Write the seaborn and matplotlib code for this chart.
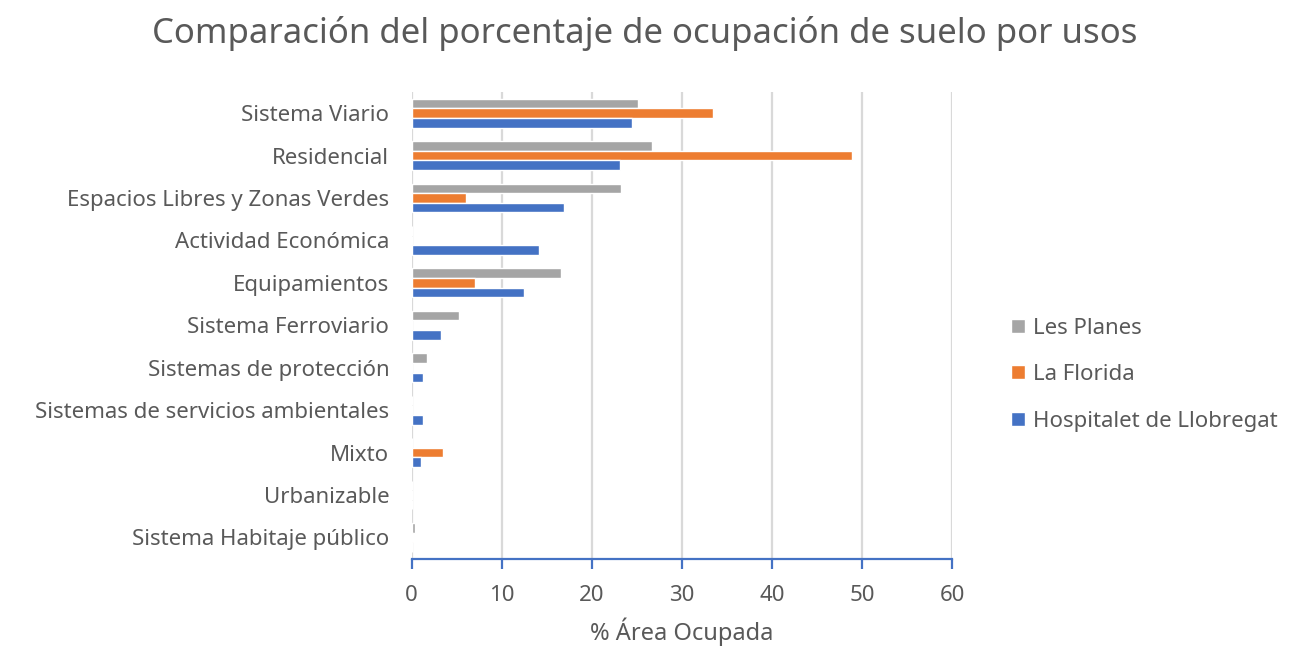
import pandas as pd
import matplotlib
matplotlib.use("Agg")
import matplotlib.pyplot as plt
import seaborn as sns

# usos de suelo (de arriba a abajo)
usos = [
    "Sistema Viario",
    "Residencial",
    "Espacios Libres y Zonas Verdes",
    "Actividad Económica",
    "Equipamientos",
    "Sistema Ferroviario",
    "Sistemas de protección",
    "Sistemas de servicios ambientales",
    "Mixto",
    "Urbanizable",
    "Sistema Habitaje público",
]

les_planes = [25.1, 26.7, 23.2, 0.0, 16.6, 5.3, 1.75, 0.0, 0.0, 0.0, 0.35]
la_florida = [33.5, 48.9, 6.0, 0.0, 7.1, 0.0, 0.0, 0.0, 3.5, 0.0, 0.2]
hospitalet = [24.5, 23.1, 16.9, 14.2, 12.5, 3.3, 1.3, 1.3, 1.1, 0.0, 0.0]

series = ["Les Planes", "La Florida", "Hospitalet de Llobregat"]
colores = ["#A5A5A5", "#ED7D31", "#4472C4"]

df = pd.concat([
    pd.DataFrame({"uso": usos, "pct": les_planes, "zona": series[0]}),
    pd.DataFrame({"uso": usos, "pct": la_florida, "zona": series[1]}),
    pd.DataFrame({"uso": usos, "pct": hospitalet, "zona": series[2]}),
])

sns.set_style("white")
plt.rcParams["font.family"] = ["Noto Sans", "DejaVu Sans"]
txt = "#595959"

fig = plt.figure(figsize=(12.9, 6.48), dpi=100)
ax = fig.add_axes([0.319, 0.138, 0.419, 0.72])

sns.barplot(data=df, x="pct", y="uso", hue="zona", hue_order=series,
            palette=colores, orient="h", width=0.68, saturation=1,
            order=usos, ax=ax, legend=True)

ax.set_xlim(0, 60)
ax.set_xticks(range(0, 61, 10))
ax.grid(axis="x", color="#D9D9D9", linewidth=1.6)
ax.set_axisbelow(True)
for s in ["top", "right", "left"]:
    ax.spines[s].set_visible(False)
ax.spines["bottom"].set_color("#4472C4")
ax.spines["bottom"].set_linewidth(1.6)
ax.tick_params(axis="x", bottom=True, labelcolor=txt, labelsize=16, length=7,
               width=1.6, direction="out", pad=12, color="#4472C4")
ax.tick_params(axis="y", labelcolor=txt, labelsize=16, length=0, pad=16)
ax.set_ylabel("")
ax.set_xlabel("% Área Ocupada", fontsize=17, color=txt, labelpad=8)

fig.suptitle("Comparación del porcentaje de ocupación de suelo por usos",
             fontsize=25, color=txt, y=0.975)

leg = ax.legend(loc="center left", bbox_to_anchor=(1.073, 0.394), frameon=False,
                fontsize=16, labelcolor=txt, handlelength=0.6, handleheight=0.6,
                handletextpad=0.35, labelspacing=1.15)

fig.savefig("out.png", dpi=100)
